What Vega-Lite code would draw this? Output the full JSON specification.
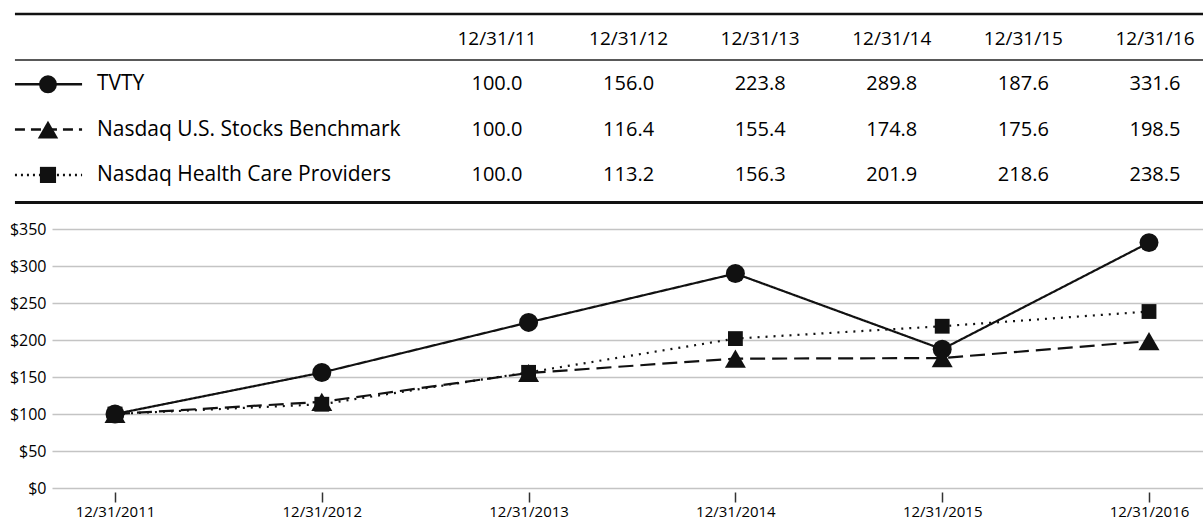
{
  "$schema": "https://vega.github.io/schema/vega-lite/v6.json",
  "padding": 0,
  "background": "white",
  "config": {"font": "Open Sans", "view": {"stroke": null}},
  "datasets": {
    "perf": [
      {"series": "TVTY", "row": 1, "year": 2011, "value": 100.0},
      {"series": "TVTY", "row": 1, "year": 2012, "value": 156.0},
      {"series": "TVTY", "row": 1, "year": 2013, "value": 223.8},
      {"series": "TVTY", "row": 1, "year": 2014, "value": 289.8},
      {"series": "TVTY", "row": 1, "year": 2015, "value": 187.6},
      {"series": "TVTY", "row": 1, "year": 2016, "value": 331.6},
      {"series": "Nasdaq U.S. Stocks Benchmark", "row": 2, "year": 2011, "value": 100.0},
      {"series": "Nasdaq U.S. Stocks Benchmark", "row": 2, "year": 2012, "value": 116.4},
      {"series": "Nasdaq U.S. Stocks Benchmark", "row": 2, "year": 2013, "value": 155.4},
      {"series": "Nasdaq U.S. Stocks Benchmark", "row": 2, "year": 2014, "value": 174.8},
      {"series": "Nasdaq U.S. Stocks Benchmark", "row": 2, "year": 2015, "value": 175.6},
      {"series": "Nasdaq U.S. Stocks Benchmark", "row": 2, "year": 2016, "value": 198.5},
      {"series": "Nasdaq Health Care Providers", "row": 3, "year": 2011, "value": 100.0},
      {"series": "Nasdaq Health Care Providers", "row": 3, "year": 2012, "value": 113.2},
      {"series": "Nasdaq Health Care Providers", "row": 3, "year": 2013, "value": 156.3},
      {"series": "Nasdaq Health Care Providers", "row": 3, "year": 2014, "value": 201.9},
      {"series": "Nasdaq Health Care Providers", "row": 3, "year": 2015, "value": 218.6},
      {"series": "Nasdaq Health Care Providers", "row": 3, "year": 2016, "value": 238.5}
    ],
    "series": [
      {"series": "TVTY", "row": 1},
      {"series": "Nasdaq U.S. Stocks Benchmark", "row": 2},
      {"series": "Nasdaq Health Care Providers", "row": 3}
    ],
    "cols": [
      {"year": 2011, "label": "12/31/11"},
      {"year": 2012, "label": "12/31/12"},
      {"year": 2013, "label": "12/31/13"},
      {"year": 2014, "label": "12/31/14"},
      {"year": 2015, "label": "12/31/15"},
      {"year": 2016, "label": "12/31/16"}
    ],
    "one": [{}]
  },
  "resolve": {"scale": {"strokeDash": "independent", "shape": "independent", "size": "independent"}},
  "spacing": 24,
  "bounds": "flush",
  "vconcat": [
    {
      "width": 1151,
      "height": 205,
      "layer": [
        {
          "data": {"name": "one"},
          "mark": {"type": "rule", "color": "#111", "strokeWidth": 2.5},
          "encoding": {
            "x": {"datum": 2007.337, "type": "quantitative", "scale": {"domain": [2007.6185, 2016.365], "nice": false, "zero": false}, "axis": null},
            "x2": {"datum": 2016.365},
            "y": {"datum": -0.552, "type": "quantitative", "scale": {"domain": [-0.861, 3.664], "nice": false, "zero": false, "reverse": true}, "axis": null}
          }
        },
        {
          "data": {"name": "one"},
          "mark": {"type": "rule", "color": "#222", "strokeWidth": 1.6},
          "encoding": {
            "x": {"datum": 2007.337, "type": "quantitative", "scale": {"domain": [2007.6185, 2016.365], "nice": false, "zero": false}, "axis": null},
            "x2": {"datum": 2016.365},
            "y": {"datum": 0.4635, "type": "quantitative", "scale": {"domain": [-0.861, 3.664], "nice": false, "zero": false, "reverse": true}, "axis": null}
          }
        },
        {
          "data": {"name": "one"},
          "mark": {"type": "rule", "color": "#111", "strokeWidth": 3},
          "encoding": {
            "x": {"datum": 2007.337, "type": "quantitative", "scale": {"domain": [2007.6185, 2016.365], "nice": false, "zero": false}, "axis": null},
            "x2": {"datum": 2016.365},
            "y": {"datum": 3.609, "type": "quantitative", "scale": {"domain": [-0.861, 3.664], "nice": false, "zero": false, "reverse": true}, "axis": null}
          }
        },
        {
          "data": {"name": "cols"},
          "mark": {"type": "text", "fontSize": 19, "color": "#000", "baseline": "middle", "align": "center"},
          "encoding": {
            "x": {"field": "year", "type": "quantitative", "scale": {"domain": [2007.6185, 2016.365], "nice": false, "zero": false}, "axis": null},
            "y": {"datum": 0, "type": "quantitative", "scale": {"domain": [-0.861, 3.664], "nice": false, "zero": false, "reverse": true}, "axis": null},
            "text": {"field": "label"}
          }
        },
        {
          "data": {"name": "perf"},
          "mark": {"type": "text", "fontSize": 20, "color": "#000", "baseline": "middle", "align": "center"},
          "encoding": {
            "x": {"field": "year", "type": "quantitative", "scale": {"domain": [2007.6185, 2016.365], "nice": false, "zero": false}, "axis": null},
            "y": {"field": "row", "type": "quantitative", "scale": {"domain": [-0.861, 3.664], "nice": false, "zero": false, "reverse": true}, "axis": null},
            "text": {"field": "value", "type": "quantitative", "format": ".1f"}
          }
        },
        {
          "data": {"name": "series"},
          "mark": {"type": "text", "fontSize": 21, "color": "#000", "baseline": "middle", "align": "left"},
          "encoding": {
            "x": {"datum": 2007.96, "type": "quantitative", "scale": {"domain": [2007.6185, 2016.365], "nice": false, "zero": false}, "axis": null},
            "y": {"field": "row", "type": "quantitative", "scale": {"domain": [-0.861, 3.664], "nice": false, "zero": false, "reverse": true}, "axis": null},
            "text": {"field": "series"}
          }
        },
        {
          "data": {"name": "series"},
          "mark": {"type": "rule", "color": "#111", "strokeWidth": 2.5},
          "encoding": {
            "x": {"datum": 2007.337, "type": "quantitative", "scale": {"domain": [2007.6185, 2016.365], "nice": false, "zero": false}, "axis": null},
            "x2": {"datum": 2007.847},
            "y": {"field": "row", "type": "quantitative", "scale": {"domain": [-0.861, 3.664], "nice": false, "zero": false, "reverse": true}, "axis": null},
            "strokeDash": {"field": "series", "type": "nominal", "scale": {"domain": ["TVTY", "Nasdaq U.S. Stocks Benchmark", "Nasdaq Health Care Providers"], "range": [[1, 0], [10, 6], [2, 4]]}, "legend": null}
          }
        },
        {
          "data": {"name": "series"},
          "mark": {"type": "point", "filled": true, "opacity": 1, "color": "#111"},
          "encoding": {
            "x": {"datum": 2007.588, "type": "quantitative", "scale": {"domain": [2007.6185, 2016.365], "nice": false, "zero": false}, "axis": null},
            "y": {"field": "row", "type": "quantitative", "scale": {"domain": [-0.861, 3.664], "nice": false, "zero": false, "reverse": true}, "axis": null},
            "shape": {"field": "series", "type": "nominal", "scale": {"domain": ["TVTY", "Nasdaq U.S. Stocks Benchmark", "Nasdaq Health Care Providers"], "range": ["circle", "triangle-up", "square"]}, "legend": null},
            "size": {"field": "series", "type": "nominal", "scale": {"type": "ordinal", "domain": ["TVTY", "Nasdaq U.S. Stocks Benchmark", "Nasdaq Health Care Providers"], "range": [320, 420, 260]}, "legend": null}
          }
        }
      ]
    },
    {
      "width": 1151,
      "height": 259,
      "data": {"name": "perf"},
      "encoding": {
        "x": {
          "field": "year", "type": "quantitative",
          "scale": {"domain": [2010.6954, 2016.2611], "nice": false, "zero": false},
          "axis": {
            "values": [2011, 2012, 2013, 2014, 2015, 2016],
            "labelExpr": "'12/31/' + datum.value",
            "title": null, "grid": false, "domain": false,
            "ticks": true, "tickSize": 10, "tickColor": "#333", "tickWidth": 1.5,
            "offset": 4, "labelPadding": 2,
            "labelFontSize": 15, "labelColor": "#000", "labelFlush": false
          }
        },
        "y": {
          "field": "value", "type": "quantitative",
          "scale": {"domain": [0, 350], "nice": false},
          "axis": {
            "values": [0, 50, 100, 150, 200, 250, 300, 350],
            "labelExpr": "'$' + datum.value",
            "title": null, "grid": true, "gridColor": "#c4c4c4", "gridWidth": 1.5,
            "domain": false, "ticks": false, "labelPadding": 6,
            "minExtent": 52, "maxExtent": 52,
            "labelFontSize": 16, "labelColor": "#000"
          }
        }
      },
      "layer": [
        {
          "mark": {"type": "line", "color": "#111", "strokeWidth": 2.2},
          "encoding": {
            "strokeDash": {"field": "series", "type": "nominal", "scale": {"domain": ["TVTY", "Nasdaq U.S. Stocks Benchmark", "Nasdaq Health Care Providers"], "range": [[1, 0], [15, 7], [2, 6]]}, "legend": null}
          }
        },
        {
          "mark": {"type": "point", "filled": true, "opacity": 1, "color": "#111"},
          "encoding": {
            "shape": {"field": "series", "type": "nominal", "scale": {"domain": ["TVTY", "Nasdaq U.S. Stocks Benchmark", "Nasdaq Health Care Providers"], "range": ["circle", "triangle-up", "square"]}, "legend": null},
            "size": {"field": "series", "type": "nominal", "scale": {"type": "ordinal", "domain": ["TVTY", "Nasdaq U.S. Stocks Benchmark", "Nasdaq Health Care Providers"], "range": [360, 440, 220]}, "legend": null}
          }
        }
      ]
    }
  ]
}
